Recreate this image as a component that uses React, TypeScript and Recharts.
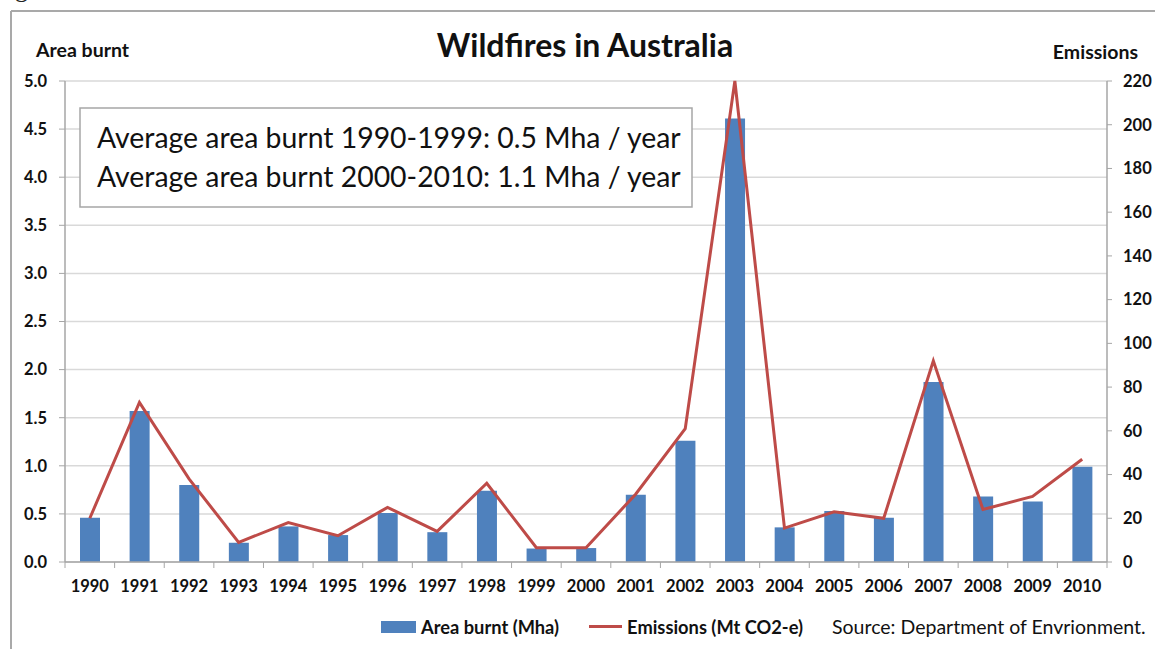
import React from 'react';
import { ComposedChart, Bar, Line, XAxis, YAxis, CartesianGrid, Legend } from 'recharts';

const years = ['1990', '1991', '1992', '1993', '1994', '1995', '1996', '1997', '1998', '1999', '2000', '2001', '2002', '2003', '2004', '2005', '2006', '2007', '2008', '2009', '2010'];
const areaBurnt = [0.46, 1.57, 0.8, 0.2, 0.37, 0.28, 0.51, 0.31, 0.74, 0.14, 0.145, 0.7, 1.26, 4.61, 0.36, 0.53, 0.46, 1.87, 0.68, 0.63, 0.99];
const emissions = [20, 73, 38, 9, 18, 12, 25, 14, 36, 6.5, 6.5, 31, 61, 220, 15.5, 23, 20, 92, 24, 30, 47];
const areaTicks = [0, 0.5, 1, 1.5, 2, 2.5, 3, 3.5, 4, 4.5, 5];
const emissionTicks = [0, 20, 40, 60, 80, 100, 120, 140, 160, 180, 200, 220];

const TITLE = 'Wildfires in Australia';
const LEFT_TITLE = 'Area burnt';
const RIGHT_TITLE = 'Emissions';
const NOTE_LINES = ['Average area burnt 1990-1999: 0.5 Mha / year', 'Average area burnt 2000-2010: 1.1 Mha / year'];
const BAR_NAME = 'Area burnt (Mha)';
const LINE_NAME = 'Emissions (Mt CO2-e)';
const SOURCE = 'Source: Department of Envrionment.';

const data = years.map((year, i) => ({ year, area: areaBurnt[i], emissions: emissions[i] }));

const FONT = 'Lato, "Open Sans", sans-serif';
const AXIS_GRAY = '#a6a6a6';
const TICK_SIZE = 6;
const TICK_MARGIN = 4;

function XTick(props: any) {
  const { x, y, payload, index, visibleTicksCount, width } = props;
  const n = visibleTicksCount || years.length;
  const half = width && n ? width / n / 2 : 24.8;
  const axisY = y - TICK_SIZE - TICK_MARGIN;
  return (
    <g>
      <line x1={x - half} x2={x - half} y1={axisY} y2={axisY + 6} stroke={AXIS_GRAY} strokeWidth={1} />
      {index === n - 1 && (
        <line x1={x + half} x2={x + half} y1={axisY} y2={axisY + 6} stroke={AXIS_GRAY} strokeWidth={1} />
      )}
      <text x={x} y={axisY + 30} textAnchor="middle" fill="#111" stroke="none" fontFamily={FONT} fontWeight={700} fontSize={16.5}>
        {payload.value}
      </text>
    </g>
  );
}

function renderLegend(props: any) {
  const payload = props.payload || [];
  return (
    <div style={{ display: 'flex', alignItems: 'center', whiteSpace: 'nowrap', fontFamily: FONT, color: '#111' }}>
      {payload.map((entry: any, i: number) => (
        <div key={i} style={{ display: 'flex', alignItems: 'center', marginLeft: i === 0 ? 0 : 30 }}>
          {entry.type === 'line' ? (
            <span style={{ display: 'inline-block', width: 33, height: 3, background: entry.color, marginRight: 5 }} />
          ) : (
            <span style={{ display: 'inline-block', width: 35, height: 12, background: entry.color, marginRight: 5 }} />
          )}
          <span style={{ fontWeight: 700, fontSize: 18.3 }}>{entry.value}</span>
        </div>
      ))}
      <span style={{ marginLeft: 29, fontSize: 19.5 }}>{SOURCE}</span>
    </div>
  );
}

export default function App() {
  return (
    <div style={{ position: 'absolute', left: 0, top: 0, width: 1155, height: 649, background: '#fff', overflow: 'hidden' }}>
      <ComposedChart
        width={1155}
        height={649}
        data={data}
        margin={{ top: 81, right: 8, left: 8, bottom: 57 }}
      >
        <CartesianGrid yAxisId="left" vertical={false} stroke="#d9d9d9" strokeWidth={1.5} />
        <XAxis
          dataKey="year"
          height={30}
          interval={0}
          tickLine={false}
          tickSize={TICK_SIZE}
          tickMargin={TICK_MARGIN}
          axisLine={{ stroke: AXIS_GRAY, strokeWidth: 1.5 }}
          tick={<XTick />}
        />
        <YAxis
          yAxisId="left"
          width={57}
          domain={[0, 5]}
          ticks={areaTicks}
          interval={0}
          tickFormatter={(v: number) => v.toFixed(1)}
          tickSize={6}
          tickMargin={12}
          axisLine={{ stroke: AXIS_GRAY, strokeWidth: 1.5 }}
          tickLine={{ stroke: AXIS_GRAY }}
          tick={{ fill: '#111', fontSize: 16.5, fontWeight: 700, fontFamily: FONT }}
        />
        <YAxis
          yAxisId="right"
          orientation="right"
          width={40}
          domain={[0, 220]}
          ticks={emissionTicks}
          interval={0}
          tickSize={5}
          tickMargin={11}
          axisLine={{ stroke: AXIS_GRAY, strokeWidth: 1.5 }}
          tickLine={{ stroke: AXIS_GRAY }}
          tick={{ fill: '#111', fontSize: 16.5, fontWeight: 700, fontFamily: FONT, textAnchor: 'start' }}
        />
        <Bar yAxisId="left" dataKey="area" name={BAR_NAME} fill="#4F81BD" barSize={20} isAnimationActive={false} legendType="rect" />
        <Line
          yAxisId="right"
          type="linear"
          dataKey="emissions"
          name={LINE_NAME}
          stroke="#BE4B48"
          strokeWidth={3}
          dot={false}
          activeDot={false}
          isAnimationActive={false}
          legendType="line"
        />
        <Legend
          layout="horizontal"
          verticalAlign="middle"
          align="center"
          content={renderLegend}
          wrapperStyle={{ left: 381, top: 615, width: 'auto', height: 'auto' }}
        />
      </ComposedChart>
      <svg width={1155} height={649} style={{ position: 'absolute', left: 0, top: 0, pointerEvents: 'none' }}>
        <line x1={11} y1={11} x2={1155} y2={11} stroke="#a9a9a9" strokeWidth={2} />
        <line x1={11} y1={11} x2={11} y2={649} stroke="#a9a9a9" strokeWidth={2} />
        <text x={15} y={-3} fontFamily='"Liberation Serif", serif' fontSize={26} fill="#222">g</text>
        <text x={585} y={57} textAnchor="middle" fontFamily={FONT} fontWeight={700} fontSize={32} fill="#111">{TITLE}</text>
        <text x={36} y={57} fontFamily={FONT} fontWeight={700} fontSize={19.5} fill="#111">{LEFT_TITLE}</text>
        <text x={1138} y={59} textAnchor="end" fontFamily={FONT} fontWeight={700} fontSize={19.5} fill="#111">{RIGHT_TITLE}</text>
        <rect x={80} y={108} width={612} height={99} fill="#fff" stroke="#a6a6a6" strokeWidth={1.5} />
        {NOTE_LINES.map((t, i) => (
          <text key={i} x={97} y={148 + i * 39} fontFamily={FONT} fontSize={28.4} fill="#111">{t}</text>
        ))}
      </svg>
    </div>
  );
}
